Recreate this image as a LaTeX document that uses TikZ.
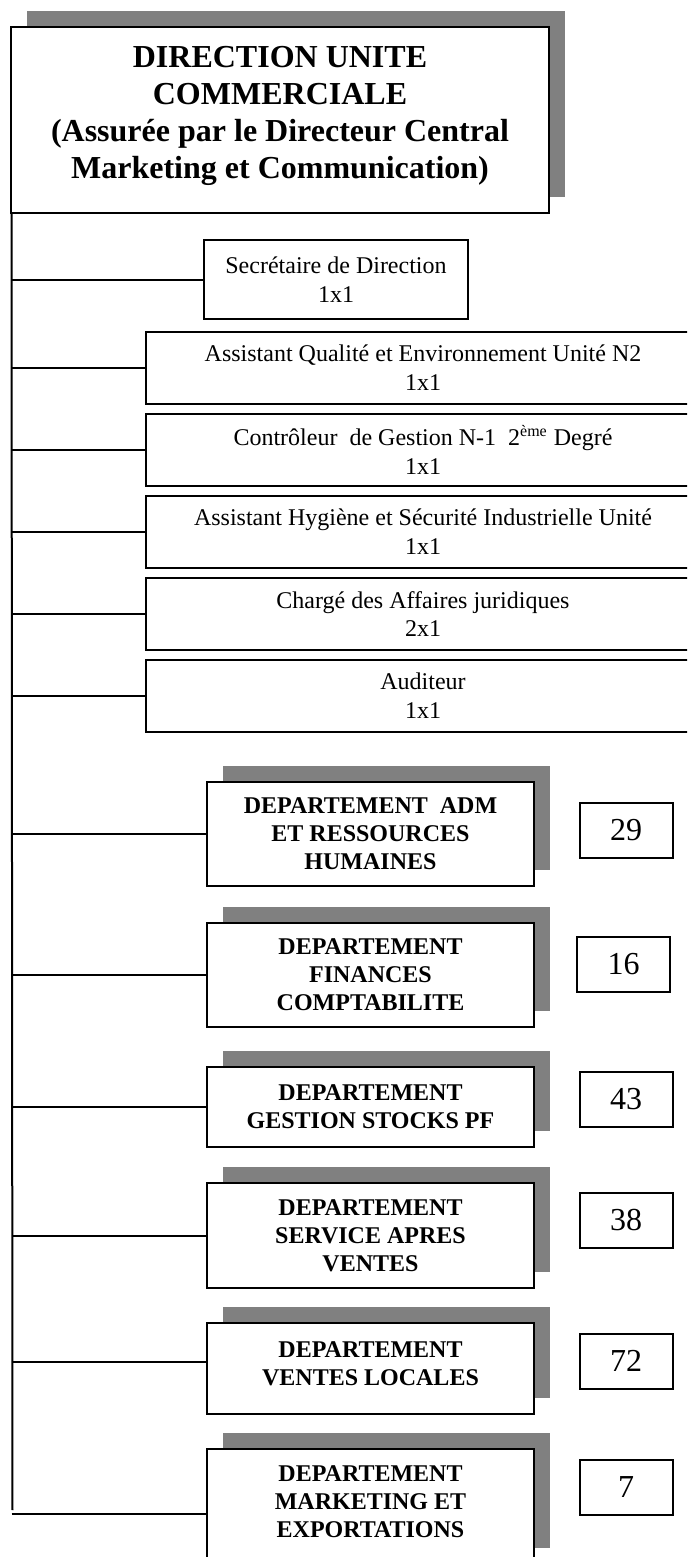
\documentclass[tikz,border=0pt]{standalone}
\usepackage{fontspec}
\setmainfont{Liberation Serif}
\usetikzlibrary{shadows}
\definecolor{shadowgrey}{HTML}{808080}
\tikzset{
  frame/.style={rectangle, draw=black, line width=1pt, fill=white, inner sep=0pt},
  shadowed/.style={drop shadow={shadow xshift=8pt, shadow yshift=8pt, fill=shadowgrey, opacity=1}},
  headtext/.style={font=\fontsize{16}{18.4}\selectfont\bfseries, align=center},
  posttext/.style={font=\fontsize{12}{14.4}\selectfont, align=center},
  depttext/.style={font=\fontsize{12}{14}\selectfont\bfseries, align=center},
  headbox/.style={frame, shadowed, headtext, minimum width=269pt, minimum height=93pt},
  secbox/.style={frame, posttext, minimum width=132pt, minimum height=39.5pt},
  postbox/.style={frame, posttext, minimum width=277pt, minimum height=36pt},
  deptbox/.style={frame, shadowed, depttext, minimum width=163.5pt},
  countbox/.style={frame, font=\fontsize{16}{18}\selectfont, minimum width=46.5pt, minimum height=27.5pt},
  link/.style={line width=1pt},
}
\begin{document}
\begin{tikzpicture}[x=0.5pt, y=-0.5pt]
\useasboundingbox (0,0) rectangle (687,1557);
\clip (0,0) rectangle (687,1557);

% head of the unit
\node[headbox, text depth=7.5pt] (dir) at (280,120)
  {DIRECTION UNITE\\COMMERCIALE\\(Assurée par le Directeur Central\\Marketing et Communication)};

% staff posts attached to the direction
\node[secbox] (sec) at (336,279.5) {Secrétaire de Direction\\1x1};
\node[postbox] (qual) at (423,368) {Assistant Qualité et Environnement Unité N2\\1x1};
\node[postbox] (ctrl) at (423,450) {Contrôleur~ de Gestion N-1~ 2\textsuperscript{ème} Degré\\1x1};
\node[postbox] (hyg)  at (423,532) {Assistant Hygiène et Sécurité Industrielle Unité\\1x1};
\node[postbox] (jur)  at (423,614) {Chargé des Affaires juridiques\\2x1};
\node[postbox] (aud)  at (423,696) {Auditeur\\1x1};

% departments
\node[deptbox, minimum height=52pt] (dadm) at (370.5,834) {DEPARTEMENT~ ADM\\ET RESSOURCES\\HUMAINES};
\node[deptbox, minimum height=52pt] (dfin) at (370.5,975) {DEPARTEMENT\\FINANCES\\COMPTABILITE};
\node[deptbox, minimum height=40pt] (dstk) at (370.5,1107) {DEPARTEMENT\\GESTION STOCKS PF};
\node[deptbox, minimum height=52.5pt] (dsav) at (370.5,1235.5) {DEPARTEMENT\\SERVICE APRES\\VENTES};
\node[deptbox, minimum height=45.5pt, text depth=5pt] (dvl) at (370.5,1368.5) {DEPARTEMENT\\VENTES LOCALES};
\node[deptbox, minimum height=57.5pt, text depth=5pt] (dmk) at (370.5,1506.5) {DEPARTEMENT\\MARKETING ET\\EXPORTATIONS};

% headcounts
\node[countbox] (nadm) at (626,830.5) {29};
\node[countbox] (nfin) at (623.5,964) {16};
\node[countbox] (nstk) at (626,1099) {43};
\node[countbox] (nsav) at (626,1220.5) {38};
\node[countbox] (nvl)  at (626,1361) {72};
\node[countbox] (nmk)  at (626,1487) {7};

% vertical trunk under the head box
\coordinate (trtop) at ([xshift=0.75pt]dir.south west);
\coordinate (trbot) at (12.5,1510);
\draw[link] (trtop) -- (trbot);

% branches from the trunk
\foreach \n in {sec,qual,ctrl,hyg,jur,aud,dadm,dfin,dstk,dsav}
  \draw[link] (\n.west -| trtop) -- (\n.west);
\draw[link] ([yshift=3.25pt]dvl.west -| trtop) -- ([yshift=3.25pt]dvl.west);
\draw[link] ([yshift=-3.75pt]dmk.west -| trtop) -- ([yshift=-3.75pt]dmk.west);
\end{tikzpicture}
\end{document}
